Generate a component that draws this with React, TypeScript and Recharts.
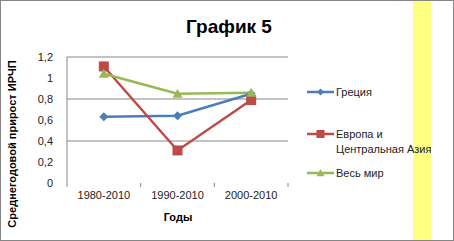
import React from "react";
import { LineChart, Line, XAxis, YAxis, CartesianGrid } from "recharts";

const categories = ["1980-2010", "1990-2010", "2000-2010"];
const greece = [0.63, 0.64, 0.85];
const europe = [1.11, 0.31, 0.79];
const world = [1.04, 0.85, 0.86];
const yTicks = [0, 0.2, 0.4, 0.6, 0.8, 1, 1.2];

const seriesNames = ["Греция", "Европа и Центральная Азия", "Весь мир"];
const seriesKeys = ["greece", "europe", "world"];
const seriesColors = ["#4a7ebb", "#be4b48", "#98b954"];
const seriesShapes = ["diamond", "square", "triangle"];

const data = categories.map((c, i) => ({
  cat: c,
  greece: greece[i],
  europe: europe[i],
  world: world[i],
}));

const W = 454;
const H = 241;
const PLOT_LEFT = 67;
const PLOT_RIGHT = 288;
const PLOT_TOP = 57;
const PLOT_BOTTOM = 183;
const FONT = "'Liberation Sans', Arial, sans-serif";

function Marker({ shape, cx, cy, color, s }: any) {
  if (shape === "diamond") {
    return (
      <polygon
        points={`${cx},${cy - s} ${cx + s},${cy} ${cx},${cy + s} ${cx - s},${cy}`}
        fill={color}
      />
    );
  }
  if (shape === "square") {
    return <rect x={cx - s} y={cy - s} width={2 * s} height={2 * s} fill={color} />;
  }
  return (
    <polygon
      points={`${cx},${cy - s} ${cx + s},${cy + s * 0.8} ${cx - s},${cy + s * 0.8}`}
      fill={color}
    />
  );
}

const makeDot = (shape: string, color: string, s: number) => (props: any) => {
  const { cx, cy, index } = props;
  if (cx == null || cy == null) return <g key={index} />;
  return (
    <g key={`${shape}-${index}`}>
      <Marker shape={shape} cx={cx} cy={cy} color={color} s={s} />
    </g>
  );
};

const band = (PLOT_RIGHT - PLOT_LEFT) / categories.length;

const CatTick = (props: any) => {
  const { x, payload, index } = props;
  const left = x - band / 2;
  return (
    <g>
      <line x1={left} y1={PLOT_BOTTOM} x2={left} y2={PLOT_BOTTOM + 4} stroke="#868686" />
      {index === categories.length - 1 && (
        <line x1={x + band / 2} y1={PLOT_BOTTOM} x2={x + band / 2} y2={PLOT_BOTTOM + 4} stroke="#868686" />
      )}
      <text
        x={x}
        y={PLOT_BOTTOM + 16}
        textAnchor="middle"
        fontSize={11}
        fontFamily={FONT}
        fill="#222"
      >
        {payload.value}
      </text>
    </g>
  );
};

const fmt = (v: number) => String(v).replace(".", ",");

export default function App() {
  return (
    <div style={{ position: "absolute", left: 0, top: 0, width: W, height: H, background: "#fff" }}>
      <div
        style={{
          position: "absolute",
          left: 413,
          top: 0,
          width: 18,
          height: H,
          background: "#ffff80",
        }}
      />
      <div
        style={{
          position: "absolute",
          left: 0,
          top: 0,
          width: W - 2,
          height: H - 2,
          border: "1px solid #868686",
        }}
      />
      <div style={{ position: "absolute", left: 0, top: 0 }}>
        <LineChart
          width={W}
          height={H}
          data={data}
          margin={{ top: PLOT_TOP, right: W - PLOT_RIGHT, bottom: 0, left: 0 }}
        >
          <CartesianGrid vertical={false} stroke="#868686" horizontalValues={[0.2, 0.4, 0.6, 0.8, 1, 1.2]} />
          <XAxis
            dataKey="cat"
            height={H - PLOT_BOTTOM}
            axisLine={false}
            tickLine={false}
            tick={<CatTick />}
            interval={0}
            padding={{ left: band / 2, right: band / 2 }}
          />
          <YAxis
            width={PLOT_LEFT}
            domain={[0, 1.2]}
            ticks={yTicks}
            tickFormatter={fmt}
            axisLine={{ stroke: "#868686" }}
            tickLine={false}
            tickSize={6}
            tickMargin={8}
            tick={{ fontSize: 11, fontFamily: FONT, fill: "#222" }}
          />
          {seriesKeys.map((k, i) => (
            <Line
              key={k}
              dataKey={k}
              name={seriesNames[i]}
              stroke={seriesColors[i]}
              strokeWidth={2.5}
              isAnimationActive={false}
              dot={makeDot(seriesShapes[i], seriesColors[i], i === 0 ? 4.5 : 5)}
              activeDot={false}
            />
          ))}
        </LineChart>
      </div>
      <svg width={W} height={H} style={{ position: "absolute", left: 0, top: 0, pointerEvents: "none" }}>
        <text x={229} y={33} textAnchor="middle" fontSize={19} fontWeight="bold" fontFamily={FONT} fill="#000">
          График 5
        </text>
        <text
          transform={`translate(16, 144) rotate(-90)`}
          textAnchor="middle"
          fontSize={11}
          fontWeight="bold"
          fontFamily={FONT}
          fill="#000"
        >
          Среднегодовой прирост ИРЧП
        </text>
        <text x={178} y={221} textAnchor="middle" fontSize={11} fontWeight="bold" fontFamily={FONT} fill="#000">
          Годы
        </text>
        {seriesNames.map((n, i) => {
          const ys = [92, 134, 173];
          const y = ys[i];
          const words = i === 1 ? ["Европа и", "Центральная Азия"] : [n];
          return (
            <g key={n}>
              <line x1={307} x2={334} y1={y} y2={y} stroke={seriesColors[i]} strokeWidth={2.5} />
              <Marker shape={seriesShapes[i]} cx={320.5} cy={y} color={seriesColors[i]} s={i === 0 ? 3.5 : 4} />
              {words.map((w, j) => (
                <text key={w} x={336} y={y + 4 + j * 15} fontSize={11} fontFamily={FONT} fill="#222">
                  {w}
                </text>
              ))}
            </g>
          );
        })}
      </svg>
    </div>
  );
}
